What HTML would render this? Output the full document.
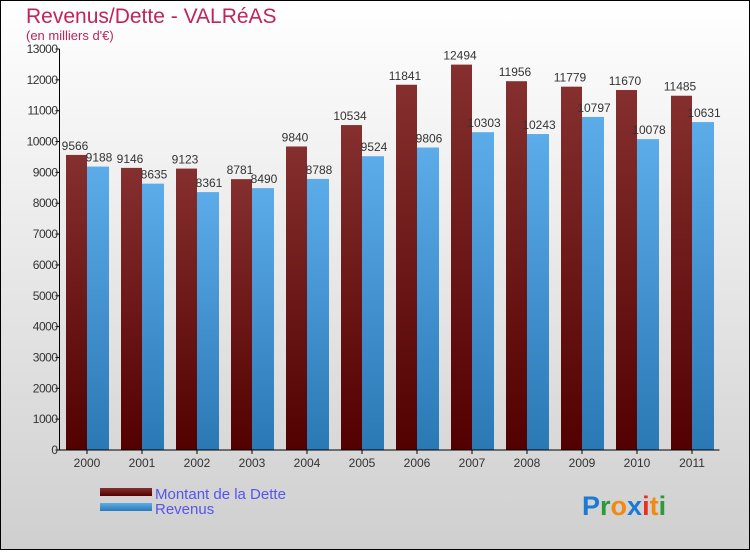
<!DOCTYPE html>
<html><head><meta charset="utf-8"><style>
body{margin:0}
svg text{font-family:"Liberation Sans",sans-serif}
</style></head><body>
<svg width="750" height="550" xmlns="http://www.w3.org/2000/svg">
<defs>
<linearGradient id="bg" x1="0" y1="0" x2="0" y2="1"><stop offset="0" stop-color="#ffffff"/><stop offset="1" stop-color="#cfcfcf"/></linearGradient>
<linearGradient id="gd" x1="0" y1="0" x2="0" y2="1"><stop offset="0" stop-color="#85302f"/><stop offset="1" stop-color="#520000"/></linearGradient>
<linearGradient id="gr" x1="0" y1="0" x2="0" y2="1"><stop offset="0" stop-color="#5cacea"/><stop offset="1" stop-color="#2a78b4"/></linearGradient>
</defs>
<rect x="0.5" y="0.5" width="749" height="549" fill="url(#bg)" stroke="#000"/>
<text x="26" y="23" font-size="21" fill="#c0245a">Revenus/Dette - VALRéAS</text>
<text x="26" y="40" font-size="13" fill="#c0245a">(en milliers d'€)</text>
<g id="plot"></g>
<g>
<rect x="100" y="488" width="52" height="8" fill="url(#gd)"/>
<text x="155" y="499" font-size="15" fill="#5555ee">Montant de la Dette</text>
<rect x="100" y="503" width="52" height="8" fill="url(#gr)"/>
<text x="155" y="514" font-size="15" fill="#5555ee">Revenus</text>
</g>
<text x="582" y="515" font-size="27" font-weight="bold"><tspan fill="#1a7ad4">P</tspan><tspan fill="#2a9a3a">r</tspan><tspan fill="#f08a10">o</tspan><tspan fill="#1a7ad4">x</tspan><tspan fill="#e83020">i</tspan><tspan fill="#f08a10">t</tspan><tspan fill="#2a9a3a">i</tspan></text>
</svg>
<script>
const years=["2000","2001","2002","2003","2004","2005","2006","2007","2008","2009","2010","2011"];
const dette=[9566,9146,9123,8781,9840,10534,11841,12494,11956,11779,11670,11485];
const revenus=[9188,8635,8361,8490,8788,9524,9806,10303,10243,10797,10078,10631];
const yTicks=[0,1000,2000,3000,4000,5000,6000,7000,8000,9000,10000,11000,12000,13000];
const NS="http://www.w3.org/2000/svg";
const g=document.getElementById('plot');
const x0=59.5,step=55,y0=450,yMax=13000,yTop=49;
const y=v=>y0-(v/yMax)*(y0-yTop);
const cx=i=>x0+step*(i+0.5);
function mk(t,a){const e=document.createElementNS(NS,t);for(const k in a)e.setAttribute(k,a[k]);g.appendChild(e);return e;}
years.forEach((yr,i)=>{
 const c=cx(i);
 let r=mk('rect',{x:c-21,y:y(dette[i]),width:21,height:y0-y(dette[i]),fill:'url(#gd)'});
 
 
 r=mk('rect',{x:c,y:y(revenus[i]),width:22,height:y0-y(revenus[i]),fill:'url(#gr)'});
 
 
 let t=mk('text',{x:c-12,y:y(dette[i])-5,'font-size':12,fill:'#333','text-anchor':'middle'});t.textContent=dette[i];
 
 
 t=mk('text',{x:c+12,y:y(revenus[i])-5,'font-size':12,fill:'#333','text-anchor':'middle'});t.textContent=revenus[i];
 
 
 t=mk('text',{x:c,y:467,'font-size':12,fill:'#333','text-anchor':'middle'});t.textContent=yr;
 
 
 mk('line',{x1:c,x2:c,y1:y0,y2:y0+4,stroke:'#000'});
});
yTicks.forEach(v=>{
 mk('line',{x1:x0-4,x2:x0,y1:y(v),y2:y(v),stroke:'#000'});
 const t=mk('text',{x:x0-2,y:y(v)+4,'font-size':12,fill:'#333','text-anchor':'end','letter-spacing':'-0.5'});t.textContent=v;
 
 
});
let a=mk('line',{x1:x0,x2:x0,y1:yTop,y2:y0,stroke:'#000'});


a=mk('line',{x1:x0,x2:x0+step*12,y1:y0,y2:y0,stroke:'#000'});


</script>
</body></html>
